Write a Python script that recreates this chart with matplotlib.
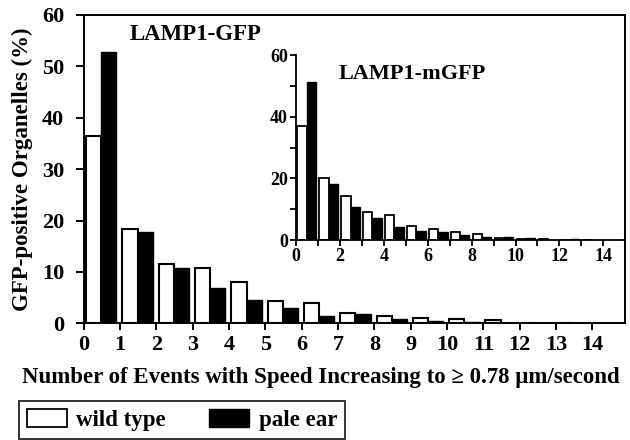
import numpy as np
import matplotlib
matplotlib.use("Agg")
import matplotlib.pyplot as plt
from matplotlib.patches import Patch

plt.rcParams['font.family'] = ['Liberation Serif', 'DejaVu Serif']
plt.rcParams['font.weight'] = 'bold'

bins = np.arange(14)
main_wild = [36.4, 18.4, 11.6, 10.7, 8.0, 4.4, 3.9, 2.1, 1.4, 1.0, 0.9, 0.7, 0.15, 0.15]
main_pale = [52.8, 17.7, 10.8, 6.8, 4.5, 2.9, 1.5, 1.75, 0.9, 0.4, 0.2, 0.15, 0.15, 0.1]
inset_wild = [37.0, 20.0, 14.4, 9.0, 8.1, 4.4, 3.5, 2.6, 1.8, 0.6, 0.4, 0.2, 0.1, 0.05]
inset_pale = [51.4, 18.2, 10.8, 7.25, 4.1, 3.0, 2.6, 1.7, 1.1, 1.0, 0.5, 0.1, 0.3, 0.05]
main_xticks = list(range(15))
inset_xticks = list(range(0, 15, 2))

fig = plt.figure(figsize=(6.3, 4.4), dpi=100)
ax = fig.add_axes([0.133, 0.265, 0.859, 0.701])
w = 0.42
ax.bar(bins + 0.27, main_wild, width=w, facecolor='white', edgecolor='black', linewidth=1.5)
ax.bar(bins + 0.69, main_pale, width=w, facecolor='black', edgecolor='black', linewidth=1.0)
ax.set_xlim(0, 14.9)
ax.set_ylim(0, 60)
ax.set_xticks(main_xticks)
ax.set_yticks(range(0, 61, 10))
ax.tick_params(axis='both', direction='out', width=1.4, labelsize=16)
ax.tick_params(axis='x', length=5, pad=3)
ax.tick_params(axis='y', length=6, pad=8)
for s in ax.spines.values():
    s.set_linewidth(1.4)
ax.set_xlabel('Number of Events with Speed Increasing to \u2265 0.78 \u03bcm/second',
              fontsize=16.5, fontweight='bold')
ax.xaxis.set_label_coords(0.438, -0.14)
ax.set_ylabel('GFP-positive Organelles (%)', fontsize=16.5, fontweight='bold')
ax.yaxis.set_label_coords(-0.093, 0.5)
ax.text(0.207, 0.97, 'LAMP1-GFP', transform=ax.transAxes, ha='center', va='top',
        fontsize=16.5, fontweight='bold')

ins = fig.add_axes([0.470, 0.4545, 0.519, 0.4205])
ins.bar(bins + 0.27, inset_wild, width=w, facecolor='white', edgecolor='black', linewidth=1.3)
ins.bar(bins + 0.69, inset_pale, width=w, facecolor='black', edgecolor='black', linewidth=1.0)
ins.set_xlim(0, 14.9)
ins.set_ylim(0, 60)
ins.set_xticks(inset_xticks)
ins.set_xticks(range(15), minor=True)
ins.set_yticks([0, 20, 40, 60])
ins.set_yticks([10, 30, 50], minor=True)
ins.tick_params(axis='both', which='both', direction='out', length=4, width=1.3, labelsize=13, pad=2)
ins.spines['top'].set_visible(False)
ins.spines['right'].set_visible(False)
for s in ['left', 'bottom']:
    ins.spines[s].set_linewidth(1.3)
ins.patch.set_alpha(0)
ins.text(0.355, 0.95, 'LAMP1-mGFP', transform=ins.transAxes, ha='center', va='top',
         fontsize=16, fontweight='bold')

handles = [Patch(facecolor='white', edgecolor='black', linewidth=1.3, label='wild type'),
           Patch(facecolor='black', edgecolor='black', label='pale ear')]
leg = fig.legend(handles=handles, loc='lower left', bbox_to_anchor=(0.03, 0.002), ncol=2,
                 frameon=True, fancybox=False, edgecolor='black', borderaxespad=0,
                 handlelength=1.75, handleheight=0.8, columnspacing=1.9, borderpad=0.35,
                 handletextpad=0.4, prop={'weight': 'bold', 'size': 16.5})
leg.get_frame().set_linewidth(1.4)

fig.savefig('out.png', dpi=100)
